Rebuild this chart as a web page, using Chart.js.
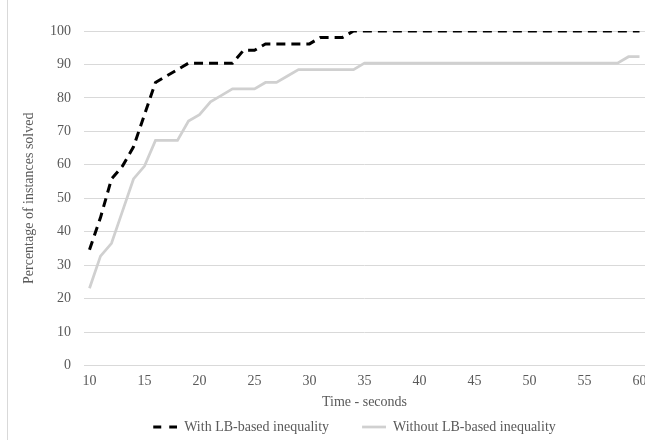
<!DOCTYPE html>
<html>
<head>
<meta charset="utf-8">
<script src="https://cdn.jsdelivr.net/npm/chart.js@4.4.1/dist/chart.umd.min.js"></script>
<style>
  html, body { margin: 0; padding: 0; background: #fff; overflow: hidden; }
  #wrap { position: relative; width: 660px; height: 444px; }
  #edge { position: absolute; left: 7px; top: 0; width: 1px; height: 444px; background: #d9d9d9; }
</style>
</head>
<body>
<div id="wrap">
  <canvas id="chart" width="660" height="444"></canvas>
  <div id="edge"></div>
</div>
<script>
// seconds 10..60
const seconds = [10,11,12,13,14,15,16,17,18,19,20,21,22,23,24,25,26,27,28,29,30,
  31,32,33,34,35,36,37,38,39,40,41,42,43,44,45,46,47,48,49,50,
  51,52,53,54,55,56,57,58,59,60];

// % of instances solved, with LB-based inequality
const withLB = [34.62,44.23,55.77,59.62,65.38,75.00,84.62,86.54,88.46,90.38,90.38,
  90.38,90.38,90.38,94.23,94.23,96.15,96.15,96.15,96.15,96.15,
  98.08,98.08,98.08,100,100,100,100,100,100,100,
  100,100,100,100,100,100,100,100,100,100,
  100,100,100,100,100,100,100,100,100,100];

// % of instances solved, without LB-based inequality
const withoutLB = [23.08,32.69,36.54,46.15,55.77,59.62,67.31,67.31,67.31,73.08,75.00,
  78.85,80.77,82.69,82.69,82.69,84.62,84.62,86.54,88.46,88.46,
  88.46,88.46,88.46,88.46,90.38,90.38,90.38,90.38,90.38,90.38,
  90.38,90.38,90.38,90.38,90.38,90.38,90.38,90.38,90.38,90.38,
  90.38,90.38,90.38,90.38,90.38,90.38,90.38,90.38,92.31,92.31];

const yTicks = [0,10,20,30,40,50,60,70,80,90,100];

const font = { family: '"Liberation Serif", "Times New Roman", serif', size: 14 };
const textColor = '#595959';
const gridColor = '#d9d9d9';

// small legend swatches (blank left half gives the gap between items)
function swatch(color, dash, width) {
  const c = document.createElement('canvas');
  c.width = 48;
  c.height = 4;
  const g = c.getContext('2d');
  g.strokeStyle = color;
  g.lineWidth = width;
  g.setLineDash(dash);
  g.beginPath();
  g.moveTo(24, 2);
  g.lineTo(48, 2);
  g.stroke();
  return c;
}
const dashSwatch = swatch('#000000', [8, 8], 3);
const greySwatch = swatch('#d0d0d0', [], 2.75);

// nudge the legend left, like the original
const legendShift = {
  id: 'legendShift',
  afterLayout(chart) {
    chart.legend.left -= 22;
    chart.legend.right -= 22;
  }
};

new Chart(document.getElementById('chart'), {
  type: 'line',
  data: {
    labels: seconds,
    datasets: [
      {
        label: 'With LB-based inequality',
        data: withLB,
        borderColor: '#000000',
        borderWidth: 3,
        borderDash: [9, 6],
        borderCapStyle: 'butt',
        pointRadius: 0,
        pointStyle: dashSwatch,
        tension: 0,
        fill: false
      },
      {
        label: 'Without LB-based inequality',
        data: withoutLB,
        borderColor: '#d0d0d0',
        borderWidth: 2.75,
        pointRadius: 0,
        pointStyle: greySwatch,
        tension: 0,
        fill: false
      }
    ]
  },
  options: {
    responsive: false,
    animation: false,
    layout: { padding: { top: 31, right: 15, bottom: 0, left: 0 } },
    scales: {
      x: {
        type: 'category',
        offset: true,
        afterFit: function(scale) { scale.height = 45.5; },
        grid: { display: false, drawTicks: false },
        border: { display: true, color: gridColor, width: 1 },
        ticks: {
          color: textColor,
          font: font,
          padding: 7,
          maxRotation: 0,
          autoSkip: false,
          callback: function(val, i) {
            const s = seconds[i];
            return s % 5 === 0 ? String(s) : null;
          }
        },
        title: {
          display: true,
          text: 'Time - seconds',
          color: textColor,
          font: font,
          padding: { top: 5, bottom: 0 }
        }
      },
      y: {
        min: 0,
        max: 100,
        afterBuildTicks: function(scale) {
          scale.ticks = yTicks.map(v => ({ value: v }));
        },
        afterFit: function(scale) { scale.width = 84; },
        grid: { color: gridColor, lineWidth: 1, drawTicks: false },
        border: { display: false },
        ticks: { color: textColor, font: font, padding: 13 },
        title: {
          display: true,
          text: 'Percentage of instances solved',
          color: textColor,
          font: font,
          padding: { top: 21, bottom: 0 }
        }
      }
    },
    plugins: {
      legend: {
        position: 'bottom',
        fullSize: false,
        labels: {
          color: textColor,
          font: font,
          usePointStyle: true,
          pointStyleWidth: 48,
          padding: 9
        }
      },
      tooltip: { enabled: false }
    }
  },
  plugins: [legendShift]
});
</script>
</body>
</html>
